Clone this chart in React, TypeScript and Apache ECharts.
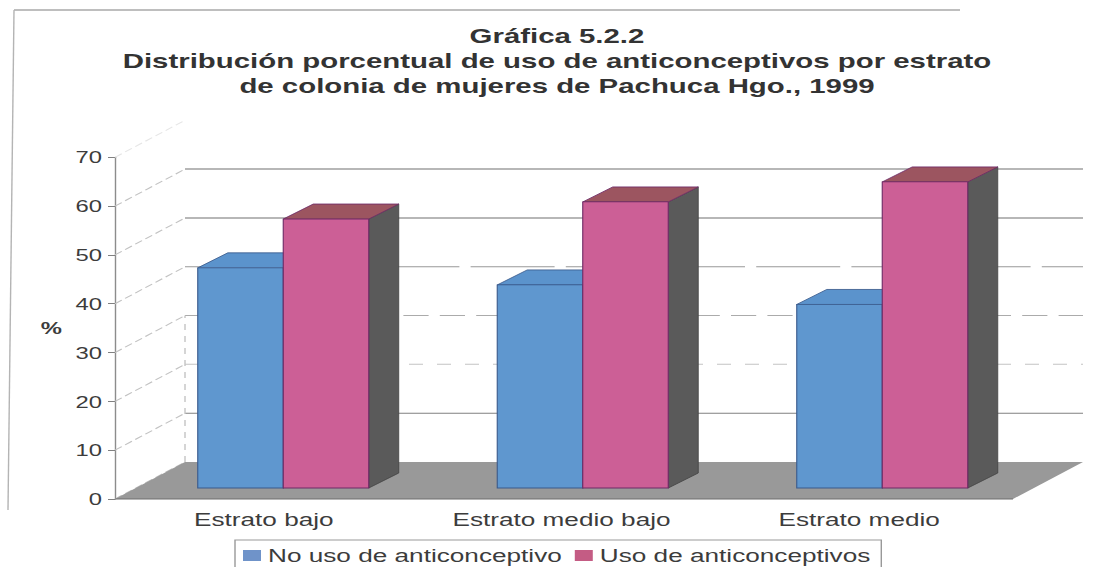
import React, { useEffect, useRef } from "react";
import * as echarts from "echarts";

const categories = ["Estrato bajo", "Estrato medio bajo", "Estrato medio"];
const noUso = [45.1, 41.6, 37.6];
const uso = [55.1, 58.6, 62.7];
const yTicks = [0, 10, 20, 30, 40, 50, 60, 70];
const seriesNames = ["No uso de anticonceptivo", "Uso de anticonceptivos"];
const titleText = "Gráfica 5.2.2\nDistribución porcentual de uso de anticonceptivos por estrato\nde colonia de mujeres de Pachuca Hgo., 1999";

// The scan is stretched horizontally: the chart is laid out narrower, then scaled by K.
const K = 1.4;
const W = 1104;
const H = 567;
const px = (x: number) => x / K;
const FONT = "Liberation Sans";
const TEXT = "#3c3c3c";

const DEPTH_X = px(30);
const DEPTH_Y = 15;
const BAR_FRACTION = 85.5 / 299.5;
const WALL_DX = px(70);
const WALL_DY = 37;

const barRender = (side: number, face: string, top: string, edge: string) => (_p: any, api: any) => {
  const base = api.coord([api.value(0), 0]);
  const tip = api.coord([api.value(0), api.value(1)]);
  const bw = api.size([1, 0])[0] * BAR_FRACTION;
  const x0 = base[0] + side * bw;
  const x1 = x0 + bw;
  const y0 = tip[1];
  const y1 = base[1];
  const sideFace = {
    type: "polygon",
    shape: { points: [[x1, y0], [x1 + DEPTH_X, y0 - DEPTH_Y], [x1 + DEPTH_X, y1 - DEPTH_Y], [x1, y1]] },
    style: { fill: "#5a5a5a", stroke: "#444", lineWidth: 0.7 },
  };
  const topFace = {
    type: "polygon",
    shape: { points: [[x0, y0], [x0 + DEPTH_X, y0 - DEPTH_Y], [x1 + DEPTH_X, y0 - DEPTH_Y], [x1, y0]] },
    style: { fill: top, stroke: edge, lineWidth: 0.7 },
  };
  const front = {
    type: "rect",
    shape: { x: x0, y: y0, width: bw, height: y1 - y0 },
    style: { fill: face, stroke: edge, lineWidth: 0.8 },
  };
  return { type: "group", children: [sideFace, topFace, front] };
};

const gridStyle: Record<number, any> = {
  10: { stroke: "#808080", lineWidth: 1 },
  20: { stroke: "#c4c4c4", lineWidth: 1, lineDash: [10, 10] },
  30: { stroke: "#ababab", lineWidth: 1, lineDash: [18, 8] },
  40: { stroke: "#999999", lineWidth: 1, lineDash: [60, 8] },
  50: { stroke: "#707070", lineWidth: 1 },
  60: { stroke: "#707070", lineWidth: 1 },
};

const wallRender = (_p: any, api: any) => {
  const v = api.value(0);
  const a = api.coord([0, v]);
  const b = api.coord([1, v]);
  const children: any[] = [
    {
      type: "line",
      shape: { x1: a[0] - WALL_DX, y1: a[1] + WALL_DY, x2: a[0], y2: a[1] },
      style: { stroke: v === 70 ? "#e6e6e6" : "#c2c2c2", lineWidth: 1, lineDash: [6, 3] },
    },
  ];
  if (gridStyle[v]) {
    children.push({ type: "line", shape: { x1: a[0], y1: a[1], x2: b[0], y2: b[1] }, style: gridStyle[v] });
  }
  return { type: "group", children };
};

const floorRender = (_p: any, api: any) => {
  const a = api.coord([0, 0]);
  const b = api.coord([1, 0]);
  const a2 = [a[0] - WALL_DX, a[1] + WALL_DY];
  const b2 = [b[0] - WALL_DX, b[1] + WALL_DY];
  const top60 = api.coord([0, 30]);
  return {
    type: "group",
    children: [
      {
        type: "line",
        shape: { x1: a[0], y1: a[1], x2: a[0], y2: top60[1] },
        style: { stroke: "#c4c4c4", lineWidth: 1, lineDash: [6, 6] },
      },
      { type: "polygon", shape: { points: [a, b, b2, a2] }, style: { fill: "#999999" } },
      { type: "line", shape: { x1: a2[0], y1: a2[1], x2: b2[0], y2: b2[1] }, style: { stroke: "#6e6e6e", lineWidth: 1 } },
    ],
  };
};

const hiddenAxis = { show: false };

export default function App() {
  const ref = useRef<HTMLDivElement>(null);
  useEffect(() => {
    const chart = echarts.init(ref.current!, null, { renderer: "svg" });
    chart.setOption({
      animation: false,
      backgroundColor: "#ffffff",
      textStyle: { fontFamily: FONT },
      title: {
        text: titleText,
        left: px(550),
        top: 18,
        textAlign: "center",
        textStyle: { fontFamily: FONT, fontWeight: "bold", fontSize: 21, lineHeight: 25, color: "#333333" },
      },
      legend: {
        left: px(235),
        top: 540,
        data: seriesNames,
        icon: "rect",
        itemWidth: px(18),
        itemHeight: 11,
        itemGap: px(13),
        padding: [6, px(11), 10, px(8)],
        borderColor: "#999999",
        borderWidth: 1,
        selectedMode: false,
        textStyle: { fontFamily: FONT, fontSize: 18.7, color: TEXT },
      },
      grid: [
        { left: px(115), width: px(893), top: 157.3, height: 341.7 },
        { left: px(133.5), width: px(898.5), top: 146.3, height: 341.7 },
        { left: px(185), width: px(898), top: 120.3, height: 341.7 },
      ],
      xAxis: [
        {
          gridIndex: 0,
          type: "category",
          data: categories,
          axisLine: { show: false },
          axisTick: { show: false },
          axisLabel: { fontFamily: FONT, fontSize: 18.7, color: TEXT, margin: 11 },
        },
        { gridIndex: 1, type: "category", data: categories, ...hiddenAxis },
        { gridIndex: 2, type: "value", min: 0, max: 1, ...hiddenAxis },
      ],
      yAxis: [
        {
          gridIndex: 0,
          type: "value",
          min: 0,
          max: 70,
          interval: 10,
          name: "%",
          nameLocation: "middle",
          nameRotate: 0,
          nameGap: 38,
          nameTextStyle: { fontFamily: FONT, fontSize: 17, color: TEXT, fontWeight: "bold" },
          axisLine: { show: true, lineStyle: { color: "#8c8c8c", width: 1 } },
          axisTick: { show: true, length: px(7), lineStyle: { color: "#808080" } },
          axisLabel: { fontFamily: FONT, fontSize: 17, color: TEXT, margin: px(13) },
          splitLine: { show: false },
        },
        { gridIndex: 1, type: "value", min: 0, max: 70, ...hiddenAxis },
        { gridIndex: 2, type: "value", min: 0, max: 70, ...hiddenAxis },
      ],
      series: [
        {
          type: "custom",
          name: "pared",
          xAxisIndex: 2,
          yAxisIndex: 2,
          silent: true,
          clip: false,
          data: yTicks.map((t) => [t]),
          encode: { y: 0 },
          renderItem: wallRender,
        },
        {
          type: "custom",
          name: "piso",
          xAxisIndex: 2,
          yAxisIndex: 2,
          silent: true,
          clip: false,
          data: [[0]],
          encode: { y: 0 },
          renderItem: floorRender,
        },
        {
          type: "custom",
          name: seriesNames[0],
          xAxisIndex: 1,
          yAxisIndex: 1,
          clip: false,
          itemStyle: { color: "#6f93c9" },
          data: noUso.map((v, i) => [i, v]),
          encode: { x: 0, y: 1 },
          renderItem: barRender(-1, "#5f97cf", "#5b93cc", "#3a5a8c"),
        },
        {
          type: "custom",
          name: seriesNames[1],
          xAxisIndex: 1,
          yAxisIndex: 1,
          clip: false,
          itemStyle: { color: "#c45c84" },
          data: uso.map((v, i) => [i, v]),
          encode: { x: 0, y: 1 },
          renderItem: barRender(0, "#cc5f96", "#9c5560", "#6e2a66"),
        },
      ],
      graphic: [
        { type: "line", shape: { x1: px(14), y1: 10, x2: px(960), y2: 10 }, style: { stroke: "#a8a8a8", lineWidth: 1.5 } },
        { type: "line", shape: { x1: px(14), y1: 10, x2: px(8), y2: 510 }, style: { stroke: "#b4b4b4", lineWidth: 1 } },
      ],
    });
    return () => chart.dispose();
  }, []);
  return (
    <div
      ref={ref}
      style={{
        position: "absolute",
        left: 0,
        top: 0,
        width: W / K,
        height: H,
        transform: `scaleX(${K})`,
        transformOrigin: "0 0",
      }}
    />
  );
}
